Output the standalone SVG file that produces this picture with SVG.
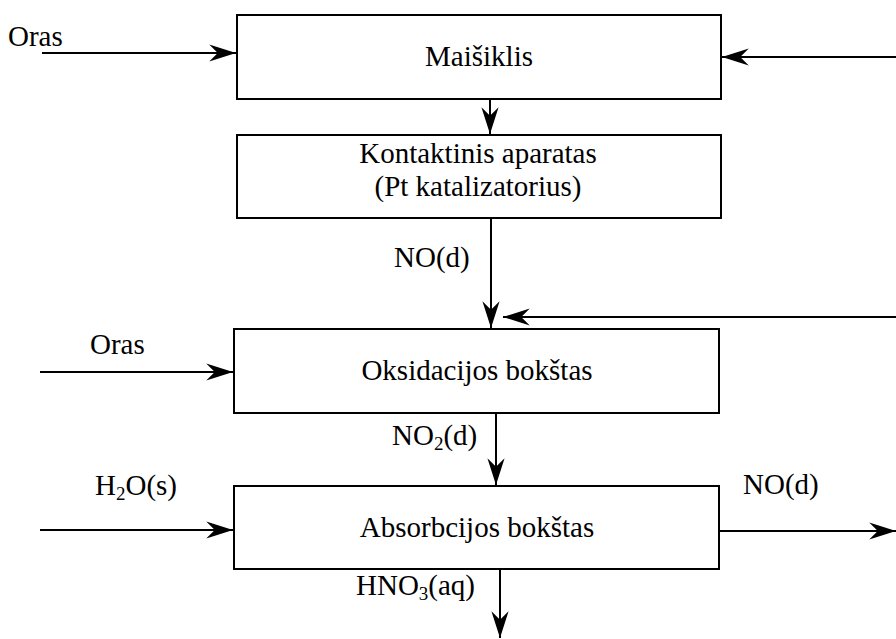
<svg xmlns="http://www.w3.org/2000/svg" width="896" height="639" viewBox="0 0 896 639">
<style>
.box{fill:#fff;stroke:#000;stroke-width:2}
.ln{fill:none;stroke:#000;stroke-width:2}
.t{font-family:'Liberation Serif','DejaVu Serif',serif;font-size:29px;fill:#000}
.c{text-anchor:middle}
.sub{font-size:19px}
</style>
<defs>
<marker id="ah" markerUnits="userSpaceOnUse" markerWidth="30" markerHeight="20" viewBox="-26 -9 28 18" refX="0" refY="0" orient="auto">
<path d="M0,0 L-25,-8 L-17,0 L-25,8 Z" fill="#000"/>
</marker>
</defs>
<rect width="896" height="639" fill="#fff"/>
<g id="connectors">
<line class="ln" x1="42" y1="53" x2="236" y2="53" marker-end="url(#ah)"/>
<line class="ln" x1="896" y1="57" x2="722" y2="57" marker-end="url(#ah)"/>
<line class="ln" x1="490" y1="99" x2="490" y2="134" marker-end="url(#ah)"/>
<line class="ln" x1="491" y1="218" x2="491" y2="328" marker-end="url(#ah)"/>
<line class="ln" x1="896" y1="317" x2="503" y2="317" marker-end="url(#ah)"/>
<line class="ln" x1="40" y1="372" x2="233" y2="372" marker-end="url(#ah)"/>
<line class="ln" x1="496" y1="413" x2="496" y2="485" marker-end="url(#ah)"/>
<line class="ln" x1="40" y1="530" x2="233" y2="530" marker-end="url(#ah)"/>
<line class="ln" x1="719" y1="531" x2="896" y2="531" marker-end="url(#ah)"/>
<line class="ln" x1="500" y1="569" x2="500" y2="638" marker-end="url(#ah)"/>
<g class="t" font-family="Liberation Serif, DejaVu Serif, serif">
<text x="8" y="46">Oras</text>
<text x="394" y="267">NO(d)</text>
<text x="90" y="354">Oras</text>
<text x="392" y="445">NO<tspan class="sub" dy="5">2</tspan><tspan dy="-5">(d)</tspan></text>
<text x="95" y="495">H<tspan class="sub" dy="5">2</tspan><tspan dy="-5">O(s)</tspan></text>
<text x="743" y="494">NO(d)</text>
<text x="356" y="595">HNO<tspan class="sub" dy="5">3</tspan><tspan dy="-5">(aq)</tspan></text>
</g>
</g>
<g id="maisiklis" class="t">
<rect class="box" x="237" y="15" width="484" height="84"/>
<text class="c" x="479" y="66">Maišiklis</text>
</g>
<g id="kontaktinis" class="t">
<rect class="box" x="237" y="135" width="484" height="83"/>
<text class="c" x="478" y="163">Kontaktinis aparatas</text>
<text class="c" x="478" y="196">(Pt katalizatorius)</text>
</g>
<g id="oksidacijos" class="t">
<rect class="box" x="234" y="329" width="485" height="84"/>
<text class="c" x="477" y="380">Oksidacijos bokštas</text>
</g>
<g id="absorbcijos" class="t">
<rect class="box" x="234" y="486" width="485" height="83"/>
<text class="c" x="477" y="537">Absorbcijos bokštas</text>
</g>
</svg>
